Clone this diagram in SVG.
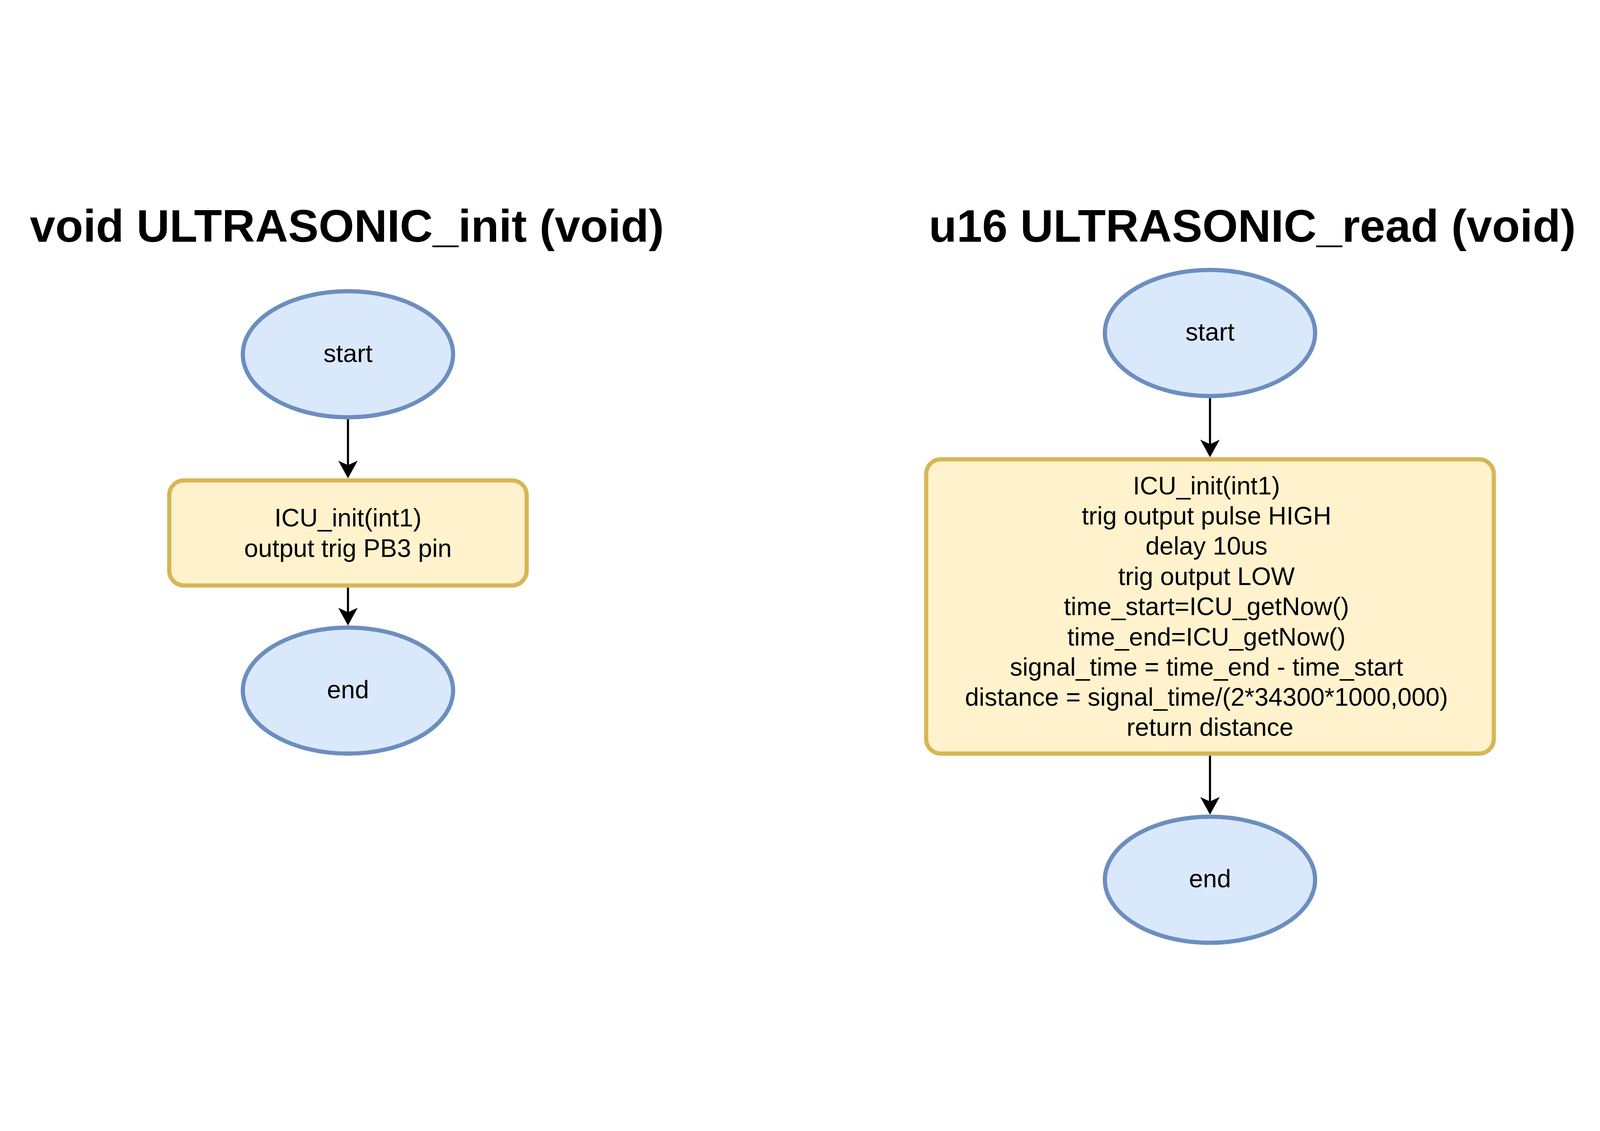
<svg xmlns="http://www.w3.org/2000/svg" width="6088" height="2896" viewBox="0 0 6088 2896" style="max-width:100vw;max-height:100vh">
<style>
.title{font-family:"Liberation Sans",Arial,sans-serif;font-weight:bold;font-size:174px;fill:#000;text-anchor:middle}
.lbl{font-family:"Liberation Sans",Arial,sans-serif;font-size:96px;fill:#000;text-anchor:middle}
.term{fill:#dae8fc;stroke:#6c8ebf;stroke-width:16}
.proc{fill:#fff2cc;stroke:#d6b656;stroke-width:16}
.edge{stroke:#000;stroke-width:8;fill:none}
</style>
<defs>
<marker id="arr" markerUnits="userSpaceOnUse" orient="auto" viewBox="0 -37 67 74" markerWidth="67" markerHeight="74" refX="17" refY="0" overflow="visible">
<path d="M0,-37 L67,0 L0,37 L17,0 Z" fill="#000"/>
</marker>
</defs>
<rect x="0" y="0" width="6088" height="2896" fill="#fff"/>
<g id="title-init"><text class="title" x="1320" y="216">void ULTRASONIC_init (void)</text></g>
<g id="title-read"><text class="title" x="4765" y="216">u16 ULTRASONIC_read (void)</text></g>
<g id="connectors">
<line class="edge" x1="1324" y1="892" x2="1324" y2="1066" marker-end="url(#arr)"/>
<line class="edge" x1="1324" y1="1532" x2="1324" y2="1626" marker-end="url(#arr)"/>
<line class="edge" x1="4604" y1="811" x2="4604" y2="986" marker-end="url(#arr)"/>
<line class="edge" x1="4604" y1="2172" x2="4604" y2="2346" marker-end="url(#arr)"/>
</g>
<g id="init-start">
<ellipse class="term" cx="1324" cy="644" rx="400" ry="240"/>
<text class="lbl" x="1324" y="673">start</text>
</g>
<g id="init-body">
<rect class="proc" x="644" y="1124" width="1360" height="400" rx="56" ry="56"/>
<text class="lbl" x="1324"><tspan x="1324" y="1299">ICU_init(int1)</tspan><tspan x="1324" y="1415">output trig PB3 pin</tspan></text>
</g>
<g id="init-end">
<ellipse class="term" cx="1324" cy="1924" rx="400" ry="240"/>
<text class="lbl" x="1324" y="1953">end</text>
</g>
<g id="read-start">
<ellipse class="term" cx="4604" cy="563" rx="400" ry="240"/>
<text class="lbl" x="4604" y="592">start</text>
</g>
<g id="read-body">
<rect class="proc" x="3524" y="1044" width="2160" height="1120" rx="56" ry="56"/>
<text class="lbl" x="4604">
<tspan x="4604" y="1177">ICU_init(int1)</tspan>
<tspan x="4604" y="1292">trig output pulse HIGH</tspan>
<tspan x="4604" y="1407">delay 10us</tspan>
<tspan x="4604" y="1522">trig output LOW</tspan>
<tspan x="4604" y="1637">time_start=ICU_getNow()</tspan>
<tspan x="4604" y="1752">time_end=ICU_getNow()</tspan>
<tspan x="4604" y="1867">signal_time = time_end - time_start</tspan>
<tspan x="4604" y="1981">distance = signal_time/(2*34300*1000,000)</tspan>
<tspan x="4604" y="2096">return distance</tspan>
</text>
</g>
<g id="read-end">
<ellipse class="term" cx="4604" cy="2644" rx="400" ry="240"/>
<text class="lbl" x="4604" y="2673">end</text>
</g>
</svg>
